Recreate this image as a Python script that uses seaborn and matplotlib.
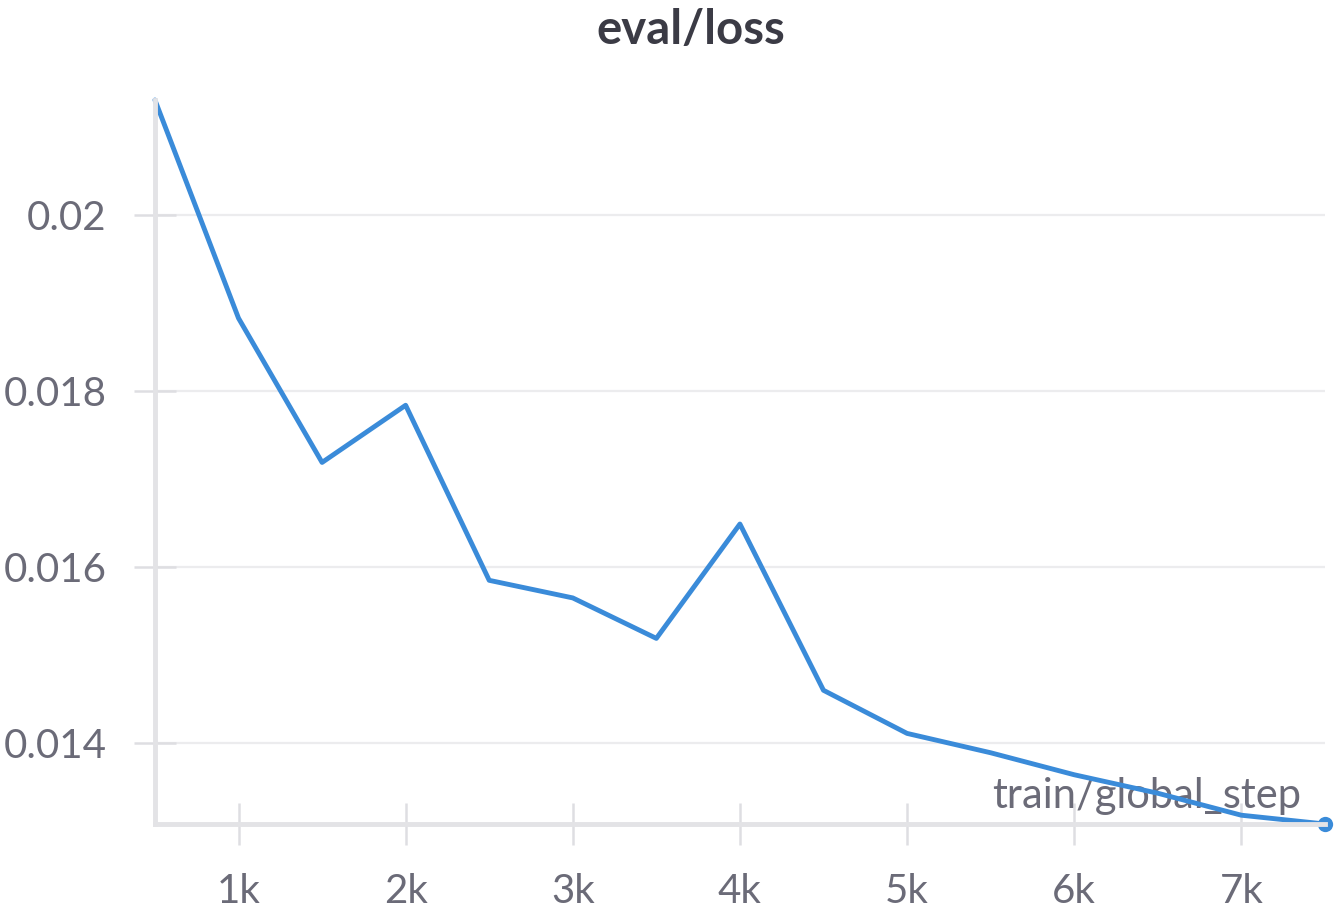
import matplotlib
matplotlib.use('Agg')
import matplotlib.pyplot as plt
import pandas as pd
import seaborn as sns

# values
steps = [500, 1000, 1500, 2000, 2500, 3000, 3500, 4000, 4500, 5000, 5500, 6000, 6500, 7000, 7500]
loss = [0.02131, 0.01883, 0.01719, 0.01784, 0.01585, 0.01565, 0.01519, 0.01649,
        0.01460, 0.01411, 0.01389, 0.01364, 0.01343, 0.01318, 0.01308]
x_ticks = [1000, 2000, 3000, 4000, 5000, 6000, 7000]
x_labels = ['1k', '2k', '3k', '4k', '5k', '6k', '7k']
y_ticks = [0.014, 0.016, 0.018, 0.02]
y_labels = ['0.014', '0.016', '0.018', '0.02']

df = pd.DataFrame({'train/global_step': steps, 'eval/loss': loss})

sns.set_style('white')
plt.rcParams['font.family'] = ['Lato', 'DejaVu Sans']

text_col = '#6b6b78'
axis_col = '#e3e3e6'
line_col = '#3a8bd9'

fig = plt.figure(figsize=(13.38, 9.09), dpi=100)
ax = fig.add_axes([0.1158, 0.0935, 0.8744, 0.7965])

sns.lineplot(data=df, x='train/global_step', y='eval/loss', ax=ax, color=line_col,
             linewidth=3.5, marker='o', markevery=[len(steps) - 1], markersize=11,
             markeredgecolor=line_col, markeredgewidth=0, clip_on=False)

ax.set_xlim(500, 7500)
ax.set_ylim(0.01308, 0.02131)
ax.set_xticks(x_ticks)
ax.set_xticklabels(x_labels)
ax.set_yticks(y_ticks)
ax.set_yticklabels(y_labels)

ax.grid(axis='y', color='#ececee', linewidth=1.6)
ax.set_axisbelow(True)
for side in ['top', 'right']:
    ax.spines[side].set_visible(False)
for side in ['left', 'bottom']:
    ax.spines[side].set_color(axis_col)
    ax.spines[side].set_linewidth(3.5)

ax.tick_params(axis='both', bottom=True, left=True, direction='inout', length=30,
               width=1.8, color='#dedee2', labelsize=29, labelcolor=text_col)
ax.tick_params(axis='y', pad=20)
ax.tick_params(axis='x', pad=20)

ax.set_ylabel('')
ax.set_xlabel('train/global_step', fontsize=30, color=text_col)
ax.xaxis.label.set_ha('right')
ax.xaxis.label.set_va('bottom')
ax.xaxis.set_label_coords(0.98, 0.012)

fig.text(0.516, 0.967, 'eval/loss', fontsize=34, fontweight='bold', color='#3b3b45',
         ha='center', va='center')

fig.savefig('out.png', dpi=100)
plt.close(fig)
